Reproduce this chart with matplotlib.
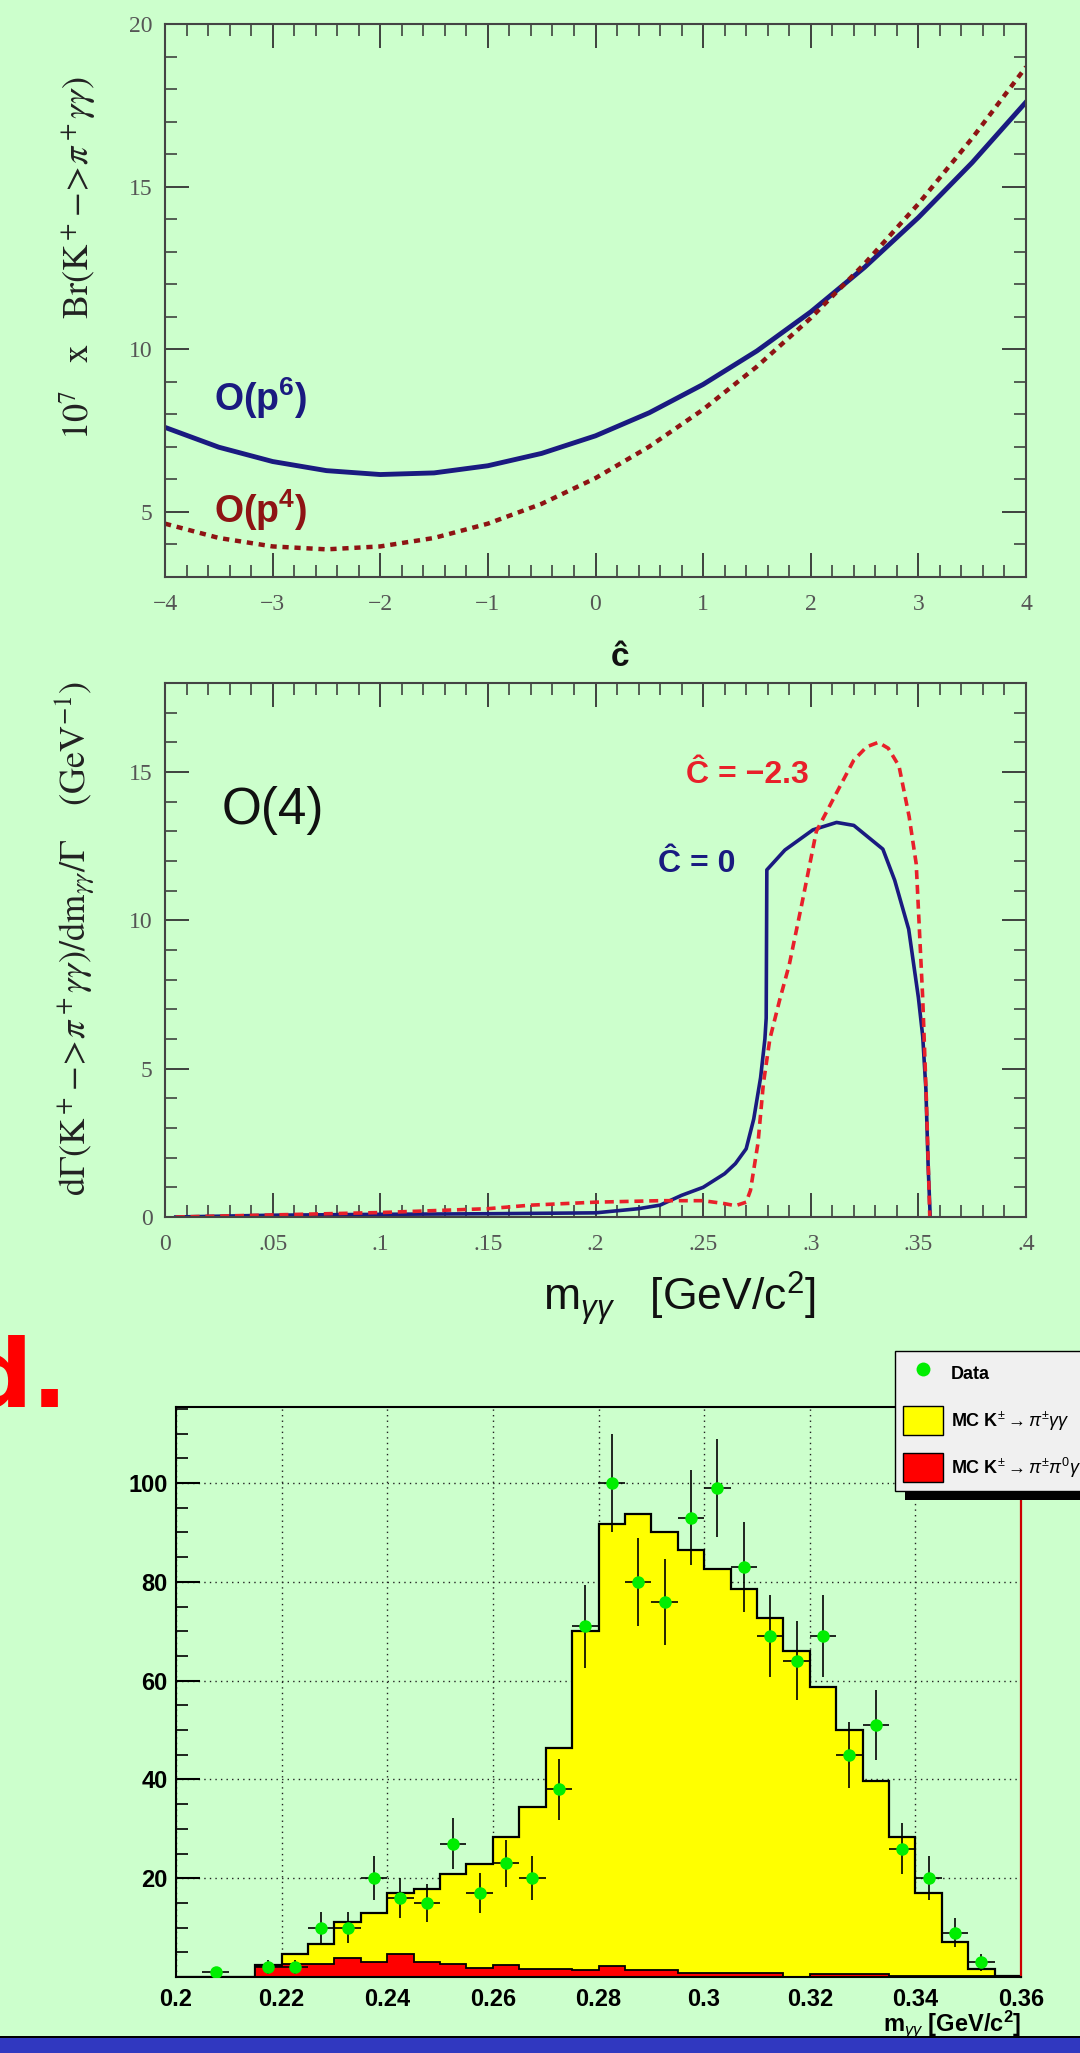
import numpy as np
import matplotlib
matplotlib.use('Agg')
import matplotlib.pyplot as plt
from matplotlib.patches import Rectangle, Patch
from matplotlib.lines import Line2D
from matplotlib.ticker import MultipleLocator

plt.rcParams['font.family'] = ['Liberation Sans', 'DejaVu Sans']
plt.rcParams['mathtext.fontset'] = 'custom'
plt.rcParams['mathtext.rm'] = 'Liberation Sans'
plt.rcParams['mathtext.it'] = 'Liberation Sans:italic'
plt.rcParams['mathtext.bf'] = 'Liberation Sans:bold'

BG = '#ccffcc'
NAVY = '#1a1a80'
DARKRED = '#8e1414'
RED = '#e8202a'
TICKC = '#555555'

# --- top panel: branching ratio vs c-hat
c_vals = [-4, -3.5, -3, -2.5, -2, -1.5, -1, -0.5, 0, 0.5, 1, 1.5, 2, 2.5, 3, 3.5, 4]
br_p6 = [7.60, 6.99, 6.55, 6.27, 6.15, 6.20, 6.42, 6.80, 7.34, 8.05, 8.92, 9.95,
         11.15, 12.52, 14.05, 15.74, 17.60]
br_p4 = [4.64, 4.20, 3.94, 3.85, 3.94, 4.20, 4.64, 5.25, 6.04, 7.01, 8.15, 9.47,
         10.96, 12.63, 14.47, 16.49, 18.68]
c_ticks = [-4, -3, -2, -1, 0, 1, 2, 3, 4]
c_tick_labels = ['\u22124', '\u22123', '\u22122', '\u22121', '0', '1', '2', '3', '4']
br_ticks = [5, 10, 15, 20]

# --- middle panel: spectrum dGamma/dm
m_c0 = [0.005, 0.05, 0.10, 0.15, 0.20, 0.22, 0.23, 0.24, 0.25, 0.26, 0.265, 0.27,
        0.2735, 0.2767, 0.2787, 0.2793, 0.2796, 0.288, 0.301, 0.312, 0.320, 0.3335,
        0.339, 0.3455, 0.35, 0.352, 0.3535, 0.3545, 0.3555]
g_c0 = [0.0, 0.06, 0.09, 0.11, 0.14, 0.28, 0.40, 0.73, 1.0, 1.46, 1.8, 2.3,
        3.3, 4.7, 6.0, 6.7, 11.7, 12.37, 13.05, 13.3, 13.2, 12.4,
        11.35, 9.7, 7.4, 6.1, 4.3, 1.8, 0.0]
m_c23 = [0.005, 0.05, 0.10, 0.15, 0.17, 0.20, 0.23, 0.25, 0.26, 0.265, 0.27, 0.272,
         0.2755, 0.278, 0.281, 0.2855, 0.290, 0.296, 0.3026, 0.312, 0.320, 0.326,
         0.3314, 0.336, 0.341, 0.3457, 0.349, 0.352, 0.3537, 0.3553]
g_c23 = [0.0, 0.07, 0.15, 0.28, 0.40, 0.50, 0.55, 0.55, 0.45, 0.38, 0.5, 0.9,
         2.5, 4.5, 6.0, 7.3, 8.5, 10.6, 13.0, 14.3, 15.4, 15.85,
         16.0, 15.8, 15.2, 13.5, 11.9, 7.4, 4.0, 0.0]
m_ticks = [0, 0.05, 0.1, 0.15, 0.2, 0.25, 0.3, 0.35, 0.4]
m_tick_labels = ['0', '.05', '.1', '.15', '.2', '.25', '.3', '.35', '.4']
g_ticks = [0, 5, 10, 15]

# --- bottom panel: measured m_gg histogram
bin_edges = np.linspace(0.2, 0.36, 33)
mc_total = [0, 0, 0, 2.4, 4.6, 6.7, 11.2, 12.9, 17.0, 17.9, 20.9, 22.9, 28.4, 34.5,
            46.3, 70.0, 91.8, 93.8, 90.1, 86.4, 82.6, 78.5, 72.6, 65.9, 58.8, 50.0,
            39.7, 28.4, 17.0, 7.1, 1.7, 0.3]
mc_bkg = [0, 0, 0, 2.2, 2.6, 2.6, 3.9, 3.0, 4.7, 3.0, 2.6, 1.8, 2.5, 1.7, 1.7, 1.35,
          2.2, 1.35, 1.35, 0.8, 0.8, 0.8, 0.8, 0.1, 0.55, 0.55, 0.55, 0.15, 0.15,
          0.15, 0.15, 0.3]
data_x = [0.2075, 0.2175, 0.2225, 0.2275, 0.2325, 0.2375, 0.2425, 0.2475, 0.2525,
          0.2575, 0.2625, 0.2675, 0.2725, 0.2775, 0.2825, 0.2875, 0.2925, 0.2975,
          0.3025, 0.3075, 0.3125, 0.3175, 0.3225, 0.3275, 0.3325, 0.3375, 0.3425,
          0.3475, 0.3525]
data_n = [1, 2, 2, 10, 10, 20, 16, 15, 27, 17, 23, 20, 38, 71, 100, 80, 76, 93, 99,
          83, 69, 64, 69, 45, 51, 26, 20, 9, 3]
data_err = [1.0, 1.4, 1.4, 3.2, 3.2, 4.5, 4.0, 3.9, 5.2, 4.1, 4.8, 4.5, 6.2, 8.4, 10.0,
            8.9, 8.7, 9.6, 9.9, 9.1, 8.3, 8.0, 8.3, 6.7, 7.1, 5.1, 4.5, 3.0, 1.7]
h_xticks = [0.2, 0.22, 0.24, 0.26, 0.28, 0.3, 0.32, 0.34, 0.36]
h_xtick_labels = ['0.2', '0.22', '0.24', '0.26', '0.28', '0.3', '0.32', '0.34', '0.36']
h_yticks = [20, 40, 60, 80, 100]

W, H = 1080, 2053
fig = plt.figure(figsize=(W / 100, H / 100), dpi=100, facecolor=BG)


def fpos(left, top, right, bottom):
    return [left / W, 1 - bottom / H, (right - left) / W, (bottom - top) / H]


def paw_style(ax):
    ax.set_facecolor(BG)
    for s in ax.spines.values():
        s.set_color('#444444')
        s.set_linewidth(1.5)
    ax.tick_params(which='both', direction='in', top=True, right=True,
                   colors='#333333', labelcolor=TICKC, labelsize=17)
    ax.tick_params(which='major', length=17, width=1.3)
    ax.tick_params(which='minor', length=8.5, width=1.1)
    for lab in ax.get_xticklabels() + ax.get_yticklabels():
        lab.set_family('Liberation Serif')


# top panel
ax1 = fig.add_axes(fpos(165, 24, 1026, 577))
ax1.plot(c_vals, br_p6, color=NAVY, lw=3.5)
ax1.plot(c_vals, br_p4, color=DARKRED, lw=3.2, linestyle=(0, (1.4, 1.3)))
ax1.set_xlim(-4, 4)
ax1.set_ylim(3, 20)
ax1.set_xticks(c_ticks)
ax1.set_xticklabels(c_tick_labels)
ax1.set_yticks(br_ticks)
ax1.xaxis.set_minor_locator(MultipleLocator(0.2))
ax1.yaxis.set_minor_locator(MultipleLocator(1))
paw_style(ax1)
ax1.tick_params(axis='x', pad=12)
ax1.tick_params(axis='y', pad=9)
ax1.text(-3.11, 8.5, r'O(p$^{\mathbf{6}}$)', color=NAVY, fontsize=27, weight='bold',
         ha='center', va='center')
ax1.text(-3.11, 5.05, r'O(p$^{\mathbf{4}}$)', color=DARKRED, fontsize=27, weight='bold',
         ha='center', va='center')
fig.text(78 / W, 1 - 258 / H,
         r'$10^7\ \ \ \mathrm{x}\ \ \ \mathrm{Br(K}^+\!-\!\!>\!\pi^+\gamma\gamma)$',
         rotation=90, ha='center', va='center', fontsize=26, color='#222222',
         math_fontfamily='stix')
fig.text(620 / W, 1 - 657 / H, '\u0109', ha='center', va='center', fontsize=24,
         weight='bold', color='#111111')

# middle panel
ax2 = fig.add_axes(fpos(165, 683, 1026, 1217))
ax2.plot(m_c0, g_c0, color=NAVY, lw=2.6)
ax2.plot(m_c23, g_c23, color=RED, lw=2.6, linestyle=(0, (2.5, 1.6)))
ax2.set_xlim(0, 0.4)
ax2.set_ylim(0, 18)
ax2.set_xticks(m_ticks)
ax2.set_xticklabels(m_tick_labels)
ax2.set_yticks(g_ticks)
ax2.xaxis.set_minor_locator(MultipleLocator(0.01))
ax2.yaxis.set_minor_locator(MultipleLocator(1))
paw_style(ax2)
ax2.tick_params(axis='x', pad=12)
ax2.tick_params(axis='y', pad=9)
ax2.text(0.050, 13.7, 'O(4)', fontsize=37, ha='center', va='center', color='#111111')
ax2.text(0.2705, 14.9, '\u0108 = \u22122.3', color=RED, fontsize=23, weight='bold',
         ha='center', va='center')
ax2.text(0.247, 11.9, '\u0108 = 0', color=NAVY, fontsize=23, weight='bold',
         ha='center', va='center')
fig.text(75 / W, 1 - 938 / H,
         r'$\mathrm{d}\Gamma(\mathrm{K}^+\!-\!\!>\!\pi^+\gamma\gamma)/\mathrm{dm}_{\gamma\gamma}/\Gamma\quad\ (\mathrm{GeV}^{-1})$',
         rotation=90, ha='center', va='center', fontsize=26, color='#222222',
         math_fontfamily='stix')
fig.text(680 / W, 1 - 1298 / H, r'm$_{\gamma\gamma}$   [GeV/c$^2$]', ha='center',
         va='center', fontsize=32, color='#111111')

# bottom panel
ax3 = fig.add_axes(fpos(176, 1407, 1021, 1977))
ax3.set_facecolor(BG)
ax3.set_axisbelow(True)
ax3.stairs(mc_total, bin_edges, fill=True, color='#ffff00')
ax3.stairs(mc_total, bin_edges, color='black', lw=1.6)
ax3.stairs(mc_bkg, bin_edges, fill=True, color='#ff0000')
ax3.stairs(mc_bkg, bin_edges, color='black', lw=1.3, baseline=None)
ax3.errorbar(data_x, data_n, yerr=data_err, xerr=0.0025, fmt='o', color='#00ee00',
             ecolor='black', elinewidth=1.2, markersize=9, mec='none', capsize=0,
             zorder=5)
ax3.set_xlim(0.2, 0.36)
ax3.set_ylim(0, 115.4)
ax3.set_xticks(h_xticks)
ax3.set_xticklabels(h_xtick_labels)
ax3.set_yticks(h_yticks)
ax3.yaxis.set_minor_locator(MultipleLocator(5))
ax3.grid(which='major', linestyle=(0, (1, 3)), color='#222222', lw=1)
ax3.tick_params(axis='x', length=0, pad=8, labelsize=17)
ax3.tick_params(axis='y', which='major', direction='in', length=17, width=1.5,
                pad=6, labelsize=17)
ax3.tick_params(axis='y', which='minor', direction='in', length=8.5, width=1.2)
for lab in ax3.get_xticklabels() + ax3.get_yticklabels():
    lab.set_fontweight('bold')
for side in ['left', 'bottom', 'top']:
    ax3.spines[side].set_color('black')
    ax3.spines[side].set_linewidth(1.5)
ax3.spines['right'].set_color('#cc0000')
ax3.spines['right'].set_linewidth(1.6)
fig.text(1021 / W, 1 - 2024 / H, r'm$_{\gamma\gamma}$ [GeV/c$^{\mathbf{2}}$]',
         ha='right', va='center', fontsize=17, weight='bold')

handles = [Line2D([], [], marker='o', color='#00ee00', linestyle='none', markersize=10,
                  mec='none'),
           Patch(facecolor='#ffff00', edgecolor='black'),
           Patch(facecolor='#ff0000', edgecolor='black')]
labels = ['Data', r'MC K$^{\pm}\rightarrow\pi^{\pm}\gamma\gamma$',
          r'MC K$^{\pm}\rightarrow\pi^{\pm}\pi^{0}\gamma\gamma$']
leg = fig.legend(handles, labels, loc='upper left',
                 bbox_to_anchor=(895 / W, 1 - 1351 / H), borderaxespad=0,
                 prop={'weight': 'bold', 'size': 13}, fancybox=False,
                 facecolor='#f0f0f0', edgecolor='black', framealpha=1,
                 handlelength=2.2, handleheight=2.1, labelspacing=1.0,
                 borderpad=0.45, handletextpad=0.45)
leg.get_frame().set_linewidth(1.0)
fig.add_artist(Rectangle((905 / W, 1 - 1500 / H), 0.3, 140 / H,
                         transform=fig.transFigure, facecolor='black', zorder=4))

# slide leftovers: red text fragment and bottom bar
fig.text(-35 / W, 1 - 1407 / H, 'd.', ha='left', va='baseline', fontsize=68,
         weight='bold', color='#ff0000', family='DejaVu Sans')
fig.add_artist(Rectangle((0, 0), 1, 15 / H, transform=fig.transFigure,
                         facecolor='#3038c0', edgecolor='none'))
fig.add_artist(Rectangle((0, 15 / H), 1, 2 / H, transform=fig.transFigure,
                         facecolor='black', edgecolor='none'))

fig.savefig('out.png', dpi=100, facecolor=BG)
